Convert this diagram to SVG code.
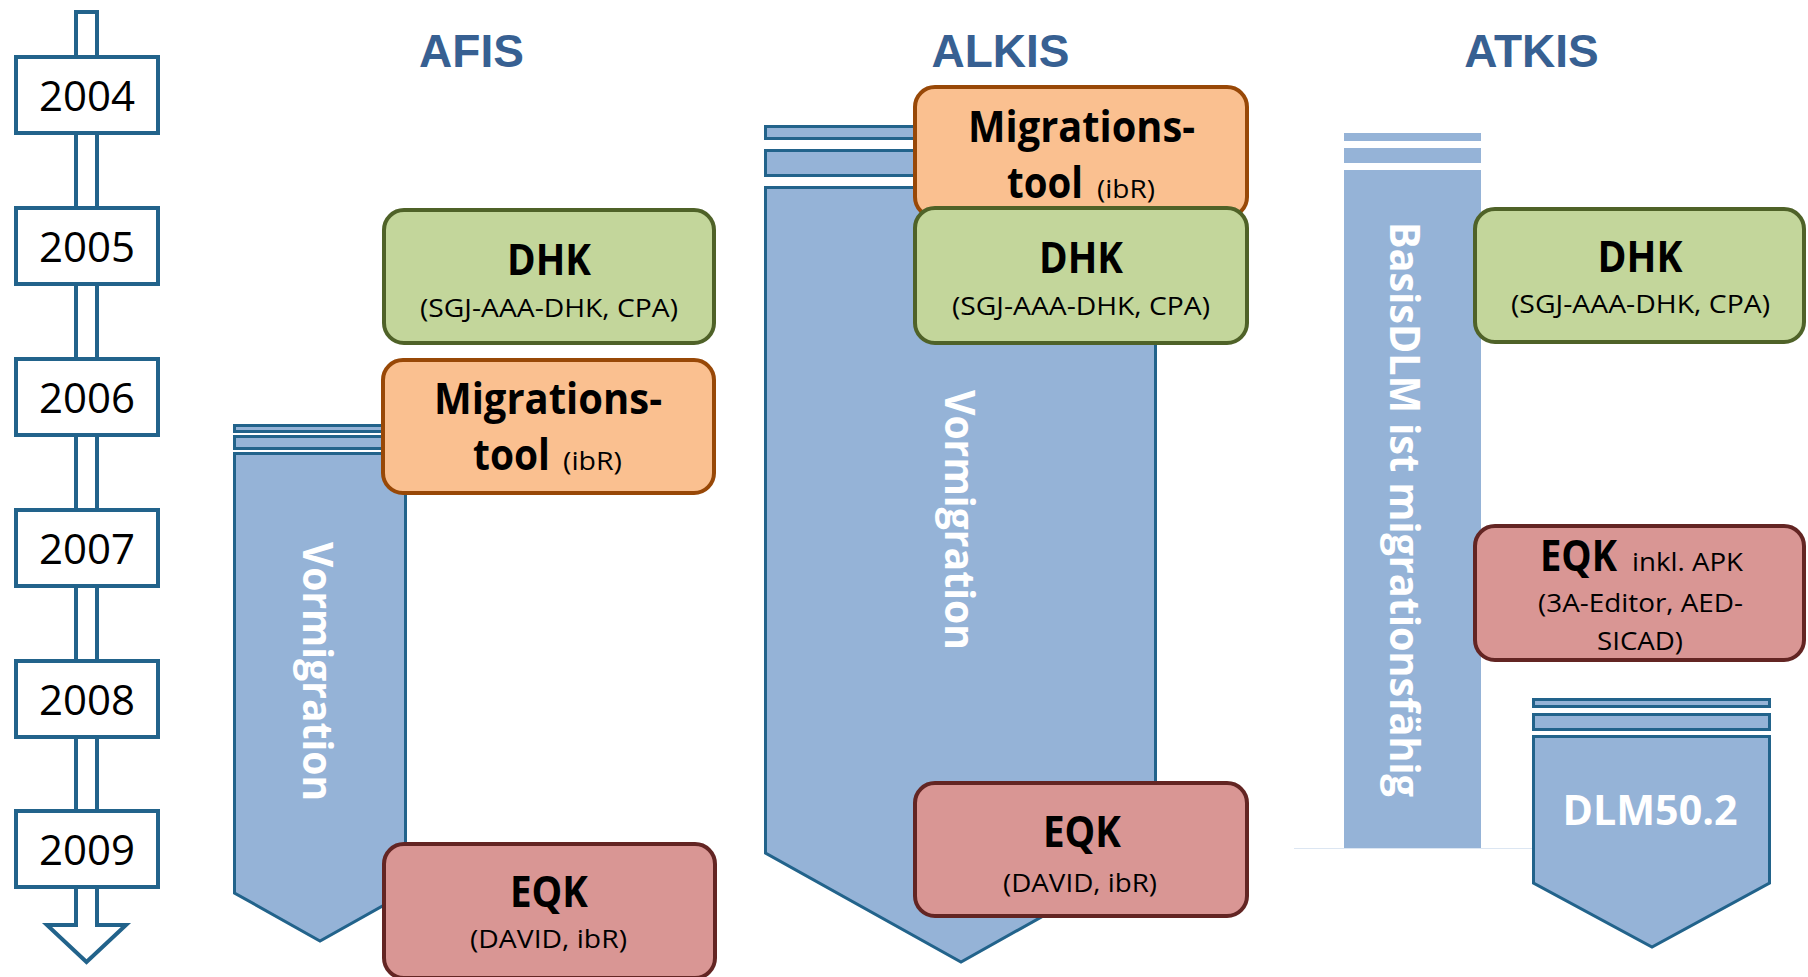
<svg xmlns="http://www.w3.org/2000/svg" width="1808" height="977" viewBox="0 0 1808 977">
  <style>
    .axis { fill: #ffffff; stroke: #22638b; stroke-width: 4; }
    .year { font-family: "Open Sans", "Noto Sans", sans-serif; font-size: 42px; fill: #000000; text-anchor: middle; }
    .head { font-family: "Liberation Sans", Arial, sans-serif; font-weight: bold; font-size: 46px; fill: #376092; text-anchor: middle; }
    .band { fill: #95b3d7; stroke: #22638b; stroke-width: 3; }
    .bandplain { fill: #95b3d7; }
    .vert { font-family: "Open Sans", "Noto Sans", sans-serif; font-weight: bold; font-size: 42px; fill: #ffffff; text-anchor: middle; }
    .dhk { fill: #c3d69b; stroke: #4f6228; stroke-width: 4; }
    .mig { fill: #fac090; stroke: #984807; stroke-width: 4; }
    .eqk { fill: #d99694; stroke: #632523; stroke-width: 4; }
    .title { font-family: "Open Sans", "Noto Sans", sans-serif; font-weight: bold; font-size: 43px; fill: #000000; }
    .sub { font-family: "Open Sans", "Noto Sans", sans-serif; font-size: 26px; fill: #000000; }
    .c { text-anchor: middle; }
  </style>

  <!-- time axis: hollow block arrow pointing down -->
  <g id="timeline">
    <path class="axis" d="M76 12 H97 V925 H126 L86.5 962 L47 925 H76 Z"/>
  </g>

  <g id="year-2004"><rect class="axis" x="16" y="57" width="142" height="76"/><text class="year" x="87" y="111">2004</text></g>
  <g id="year-2005"><rect class="axis" x="16" y="208" width="142" height="76"/><text class="year" x="87" y="262">2005</text></g>
  <g id="year-2006"><rect class="axis" x="16" y="359" width="142" height="76"/><text class="year" x="87" y="413">2006</text></g>
  <g id="year-2007"><rect class="axis" x="16" y="510" width="142" height="76"/><text class="year" x="87" y="564">2007</text></g>
  <g id="year-2008"><rect class="axis" x="16" y="661" width="142" height="76"/><text class="year" x="87" y="715">2008</text></g>
  <g id="year-2009"><rect class="axis" x="16" y="811" width="142" height="76"/><text class="year" x="87" y="865">2009</text></g>

  <!-- column headings -->
  <g id="headings">
    <text class="head" x="471.5" y="67">AFIS</text>
    <text class="head" x="1000.5" y="67">ALKIS</text>
    <text class="head" x="1531.5" y="67">ATKIS</text>
  </g>

  <!-- AFIS -->
  <g id="afis-vormigration">
    <rect class="band" x="234.5" y="425.5" width="171" height="6"/>
    <rect class="band" x="234.5" y="436.5" width="171" height="12"/>
    <path class="band" d="M234.5 453.5 H405.5 V893 L320 941 L234.5 893 Z"/>
    <text class="vert" transform="translate(303 671.5) rotate(90)" textLength="259" lengthAdjust="spacingAndGlyphs">Vormigration</text>
  </g>
  <g id="afis-dhk">
    <rect class="dhk" x="384" y="210" width="330" height="133" rx="20"/>
    <text class="title c" x="549" y="275" textLength="84" lengthAdjust="spacingAndGlyphs">DHK</text>
    <text class="sub c" x="549" y="317" textLength="258" lengthAdjust="spacingAndGlyphs">(SGJ-AAA-DHK, CPA)</text>
  </g>
  <g id="afis-migrationstool">
    <rect class="mig" x="383" y="360" width="331" height="133" rx="20"/>
    <text class="title" x="434" y="414" textLength="228" lengthAdjust="spacingAndGlyphs">Migrations-</text>
    <text class="title" x="473" y="470" textLength="77" lengthAdjust="spacingAndGlyphs">tool</text>
    <text class="sub" x="563" y="470" textLength="59" lengthAdjust="spacingAndGlyphs">(ibR)</text>
  </g>
  <g id="afis-eqk">
    <rect class="eqk" x="384" y="844" width="331" height="134" rx="20"/>
    <text class="title c" x="549" y="907" textLength="78" lengthAdjust="spacingAndGlyphs">EQK</text>
    <text class="sub c" x="548.5" y="948" textLength="157" lengthAdjust="spacingAndGlyphs">(DAVID, ibR)</text>
  </g>

  <!-- ALKIS -->
  <g id="alkis-vormigration">
    <rect class="band" x="765.5" y="126.5" width="390" height="12"/>
    <rect class="band" x="765.5" y="150.5" width="390" height="25"/>
    <path class="band" d="M765.5 187.5 H1155.5 V853 L961 962 L765.5 853 Z"/>
    <text class="vert" transform="translate(945 520) rotate(90)" textLength="260" lengthAdjust="spacingAndGlyphs">Vormigration</text>
  </g>
  <g id="alkis-migrationstool">
    <rect class="mig" x="915" y="87" width="332" height="130" rx="20"/>
    <text class="title" x="968" y="142" textLength="227" lengthAdjust="spacingAndGlyphs">Migrations-</text>
    <text class="title" x="1007" y="198" textLength="76" lengthAdjust="spacingAndGlyphs">tool</text>
    <text class="sub" x="1097" y="198" textLength="58" lengthAdjust="spacingAndGlyphs">(ibR)</text>
  </g>
  <g id="alkis-dhk">
    <rect class="dhk" x="915" y="208" width="332" height="135" rx="20"/>
    <text class="title c" x="1081" y="273" textLength="84" lengthAdjust="spacingAndGlyphs">DHK</text>
    <text class="sub c" x="1081" y="315" textLength="258" lengthAdjust="spacingAndGlyphs">(SGJ-AAA-DHK, CPA)</text>
  </g>
  <g id="alkis-eqk">
    <rect class="eqk" x="915" y="783" width="332" height="133" rx="20"/>
    <text class="title c" x="1082" y="847" textLength="78" lengthAdjust="spacingAndGlyphs">EQK</text>
    <text class="sub c" x="1080" y="892" textLength="154" lengthAdjust="spacingAndGlyphs">(DAVID, ibR)</text>
  </g>

  <!-- ATKIS -->
  <g id="atkis-basisdlm">
    <line x1="1294" y1="848.5" x2="1532" y2="848.5" stroke="#dce6f2" stroke-width="1"/>
    <rect class="bandplain" x="1344" y="133" width="137" height="8"/>
    <rect class="bandplain" x="1344" y="148" width="137" height="15"/>
    <rect class="bandplain" x="1344" y="170" width="137" height="678"/>
    <text class="vert" transform="translate(1390 509.5) rotate(90)" textLength="575" lengthAdjust="spacingAndGlyphs">BasisDLM ist migrationsfähig</text>
  </g>
  <g id="atkis-dhk">
    <rect class="dhk" x="1475" y="209" width="329" height="133" rx="20"/>
    <text class="title c" x="1640" y="272" textLength="85" lengthAdjust="spacingAndGlyphs">DHK</text>
    <text class="sub c" x="1640.5" y="313" textLength="259" lengthAdjust="spacingAndGlyphs">(SGJ-AAA-DHK, CPA)</text>
  </g>
  <g id="atkis-eqk">
    <rect class="eqk" x="1475" y="526" width="329" height="134" rx="20"/>
    <text class="title" x="1540" y="571" textLength="77" lengthAdjust="spacingAndGlyphs">EQK</text>
    <text class="sub" x="1632" y="571" textLength="111" lengthAdjust="spacingAndGlyphs">inkl. APK</text>
    <text class="sub c" x="1640.5" y="612" textLength="205" lengthAdjust="spacingAndGlyphs">(3A-Editor, AED-</text>
    <text class="sub c" x="1640" y="650" textLength="86" lengthAdjust="spacingAndGlyphs">SICAD)</text>
  </g>
  <g id="atkis-dlm50">
    <rect class="band" x="1533.5" y="699.5" width="236" height="7"/>
    <rect class="band" x="1533.5" y="714.5" width="236" height="15"/>
    <path class="band" d="M1533.5 736.5 H1769.5 V883 L1652 947 L1533.5 883 Z"/>
    <text class="vert" x="1650" y="825" textLength="175" lengthAdjust="spacingAndGlyphs">DLM50.2</text>
  </g>
</svg>
